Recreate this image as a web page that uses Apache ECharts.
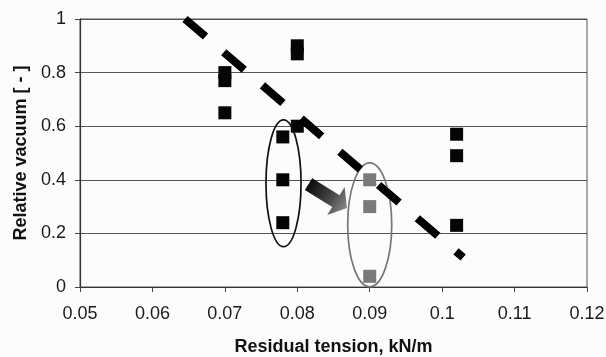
<!DOCTYPE html>
<html>
<head>
<meta charset="utf-8">
<script src="https://cdn.jsdelivr.net/npm/echarts@6/dist/echarts.min.js"></script>
<style>
  html, body { margin: 0; padding: 0; background: #fcfcfc; }
  #chart { width: 606px; height: 357px; }
</style>
</head>
<body>
<div id="chart"></div>
<script>
// Axis ranges and tick steps
const xRange = [0.05, 0.12];
const xStep = 0.01;
const yRange = [0, 1];
const yStep = 0.2;

// Measured points: [residual tension kN/m, relative vacuum]
const blackPoints = [
  [0.07, 0.80], [0.07, 0.77], [0.07, 0.65],
  [0.08, 0.90], [0.08, 0.87], [0.08, 0.60],
  [0.102, 0.57], [0.102, 0.49], [0.102, 0.23]
];
const groupBefore = [[0.078, 0.56], [0.078, 0.40], [0.078, 0.24]];
const groupAfter = [[0.09, 0.40], [0.09, 0.30], [0.09, 0.04]];

// Trend line end points
const trendLine = [[0.0645, 1.0], [0.1029, 0.11]];

// Ellipses around the two groups: [cx, cy, rx, ry] in data units
const ellipseBefore = [0.0781, 0.387, 0.00242, 0.2365];
const ellipseAfter = [0.0900, 0.232, 0.00304, 0.231];

// Shift arrow: [x0, y0, x1, y1] in data units
const shiftArrow = [0.08155, 0.384, 0.08686, 0.295];

const chart = echarts.init(document.getElementById('chart'), null, { renderer: 'canvas' });

function ellipseItem(color) {
  return function (params, api) {
    const c = api.coord([api.value(0), api.value(1)]);
    const s = api.size([api.value(2), api.value(3)]);
    return {
      type: 'ellipse',
      shape: { cx: c[0], cy: c[1], rx: s[0], ry: s[1] },
      style: { fill: null, stroke: color, lineWidth: 1.7 }
    };
  };
}

function arrowItem(params, api) {
  const a = api.coord([api.value(0), api.value(1)]);
  const b = api.coord([api.value(2), api.value(3)]);
  const dx = b[0] - a[0], dy = b[1] - a[1];
  const len = Math.sqrt(dx * dx + dy * dy);
  const ux = dx / len, uy = dy / len;
  const nx = -uy, ny = ux;
  const shaftHalf = 7, headHalf = 16.5, headLen = 13;
  const bx = b[0] - ux * headLen, by = b[1] - uy * headLen;
  const pts = [
    [a[0] + nx * shaftHalf, a[1] + ny * shaftHalf],
    [bx + nx * shaftHalf, by + ny * shaftHalf],
    [bx + nx * headHalf, by + ny * headHalf],
    [b[0], b[1]],
    [bx - nx * headHalf, by - ny * headHalf],
    [bx - nx * shaftHalf, by - ny * shaftHalf],
    [a[0] - nx * shaftHalf, a[1] - ny * shaftHalf]
  ];
  return {
    type: 'polygon',
    shape: { points: pts },
    style: {
      fill: new echarts.graphic.LinearGradient(a[0], a[1], b[0], b[1], [
        { offset: 0, color: '#0a0a0a' },
        { offset: 0.55, color: '#444' },
        { offset: 1, color: '#888' }
      ], true)
    }
  };
}

const squareStyle = (color) => ({ color: color, opacity: 1 });

chart.setOption({
  backgroundColor: '#fcfcfc',
  animation: false,
  grid: {
    left: 80, right: 19, top: 19, bottom: 70,
    outerBoundsMode: 'none',
    containLabel: false,
    show: true, borderColor: '#555', borderWidth: 1
  },
  xAxis: {
    type: 'value',
    min: xRange[0], max: xRange[1], interval: xStep,
    name: 'Residual tension, kN/m',
    nameLocation: 'middle',
    nameGap: 51,
    nameTextStyle: { fontFamily: 'Liberation Sans', fontWeight: 'bold', fontSize: 18, color: '#111' },
    axisLine: { lineStyle: { color: '#333', width: 1 } },
    axisTick: { show: true, length: 5, lineStyle: { color: '#444' } },
    axisLabel: {
      fontFamily: 'Liberation Sans', fontSize: 18, color: '#1a1a1a', margin: 18,
      formatter: v => String(Math.round(v * 100) / 100)
    },
    splitLine: { show: false }
  },
  yAxis: {
    type: 'value',
    min: yRange[0], max: yRange[1], interval: yStep,
    name: 'Relative vacuum [ - ]',
    nameLocation: 'middle',
    nameGap: 50,
    nameTextStyle: { fontFamily: 'Liberation Sans', fontWeight: 'bold', fontSize: 18, color: '#111' },
    axisLine: { show: true, lineStyle: { color: '#333', width: 1.2 } },
    axisTick: { show: true, length: 5, lineStyle: { color: '#444' } },
    axisLabel: {
      fontFamily: 'Liberation Sans', fontSize: 18, color: '#1a1a1a', margin: 14,
      formatter: v => String(Math.round(v * 10) / 10)
    },
    splitLine: { show: true, lineStyle: { color: '#555', width: 1 } }
  },
  series: [
    {
      type: 'scatter', data: blackPoints,
      symbol: 'rect', symbolSize: 13,
      itemStyle: squareStyle('#050505'), z: 2
    },
    {
      type: 'scatter', data: groupBefore,
      symbol: 'rect', symbolSize: 13,
      itemStyle: squareStyle('#050505'), z: 2
    },
    {
      type: 'scatter', data: groupAfter,
      symbol: 'rect', symbolSize: 13,
      itemStyle: squareStyle('#7a7a7a'), z: 2
    },
    {
      type: 'custom', renderItem: ellipseItem('#111'),
      data: [ellipseBefore], clip: false, z: 3
    },
    {
      type: 'custom', renderItem: ellipseItem('#777'),
      data: [ellipseAfter], clip: false, z: 3
    },
    {
      type: 'line', data: trendLine,
      symbol: 'none', clip: false,
      lineStyle: { color: '#000', width: 8, type: [27, 24], cap: 'butt' },
      z: 4
    },
    {
      type: 'custom', renderItem: arrowItem,
      data: [shiftArrow], clip: false, z: 5
    }
  ]
});
</script>
</body>
</html>
